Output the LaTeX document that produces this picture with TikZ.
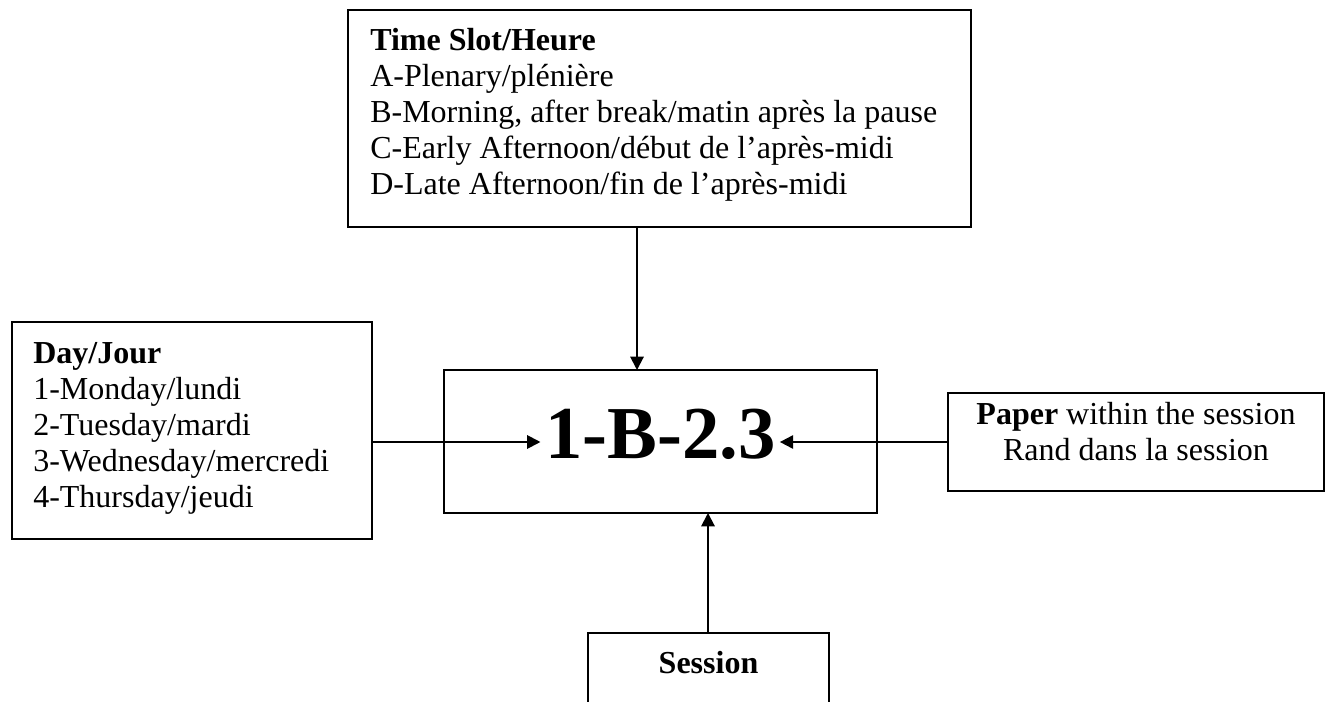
\documentclass[tikz,border=0pt]{standalone}
\usepackage{fontspec}
\setmainfont{Liberation Serif}
\usetikzlibrary{arrows.meta}
\begin{document}
\begin{tikzpicture}[x=0.75pt,y={(0pt,-0.75pt)},
  box/.style={draw,line width=1.5pt,rectangle,inner sep=0pt,outer sep=0pt},
  txt/.style={anchor=base west,inner sep=0pt,font=\fontsize{24}{27.6}\selectfont},
  ctxt/.style={anchor=base,inner sep=0pt,font=\fontsize{24}{27.6}\selectfont},
  arr/.style={line width=1.5pt,-{Triangle[length=10pt,width=10pt]}}]
\useasboundingbox (0,0) rectangle (1330,702);
\clip (0,0) rectangle (1330,702);
% boxes
\node[box,minimum width=467.25pt,minimum height=162.75pt] (topbox) at (659.5,118.5) {};
\node[box,minimum width=270pt,minimum height=162.75pt] (leftbox) at (192,430.5) {};
\node[box,minimum width=324.75pt,minimum height=107.25pt] (center) at (660.5,441.5) {};
\node[box,minimum width=282pt,minimum height=73.5pt] (rightbox) at (1136,442) {};
\node[box,minimum width=180.75pt,minimum height=66.75pt] (session) at (708.5,677.5) {};
% top box text
\node[txt] (t1) at (370,51) {\textbf{Time Slot/Heure}};
\node[txt] (t2) at (370,87) {A-Plenary/plénière};
\node[txt] (t3) at (370,123) {B-Morning, after break/matin après la pause};
\node[txt] (t4) at (370,159) {C-Early Afternoon/début de l’après-midi};
\node[txt] (t5) at (370,195) {D-Late Afternoon/fin de l’après-midi};
% left box text
\node[txt] (l1) at (33,363) {\textbf{Day/Jour}};
\node[txt] (l2) at (33,399) {1-Monday/lundi};
\node[txt] (l3) at (33,435) {2-Tuesday/mardi};
\node[txt] (l4) at (33,471) {3-Wednesday/mercredi};
\node[txt] (l5) at (33,507) {4-Thursday/jeudi};
% right box text
\node[ctxt] (r1) at (1136,424) {\textbf{Paper} within the session};
\node[ctxt] (r2) at (1136,460) {Rand dans la session};
% code
\node[anchor=base,inner sep=0pt,font=\fontsize{56}{60}\selectfont\bfseries] (code) at (660.5,458) {1-B-2.3};
% session text
\node[ctxt] (s1) at (708.5,673) {\textbf{Session}};
% connectors
\coordinate (ax) at (637,0);
\coordinate (sx) at (708,0);
\coordinate (ay) at (0,442);
\draw[arr] (ax |- topbox.south) -- (ax |- center.north);
\draw[arr,shorten >=3.5pt] (leftbox.east |- ay) -- (code.west |- ay);
\draw[arr,shorten >=3pt] (rightbox.west |- ay) -- (code.east |- ay);
\draw[arr] (sx |- session.north) -- (sx |- center.south);
\end{tikzpicture}
\end{document}
